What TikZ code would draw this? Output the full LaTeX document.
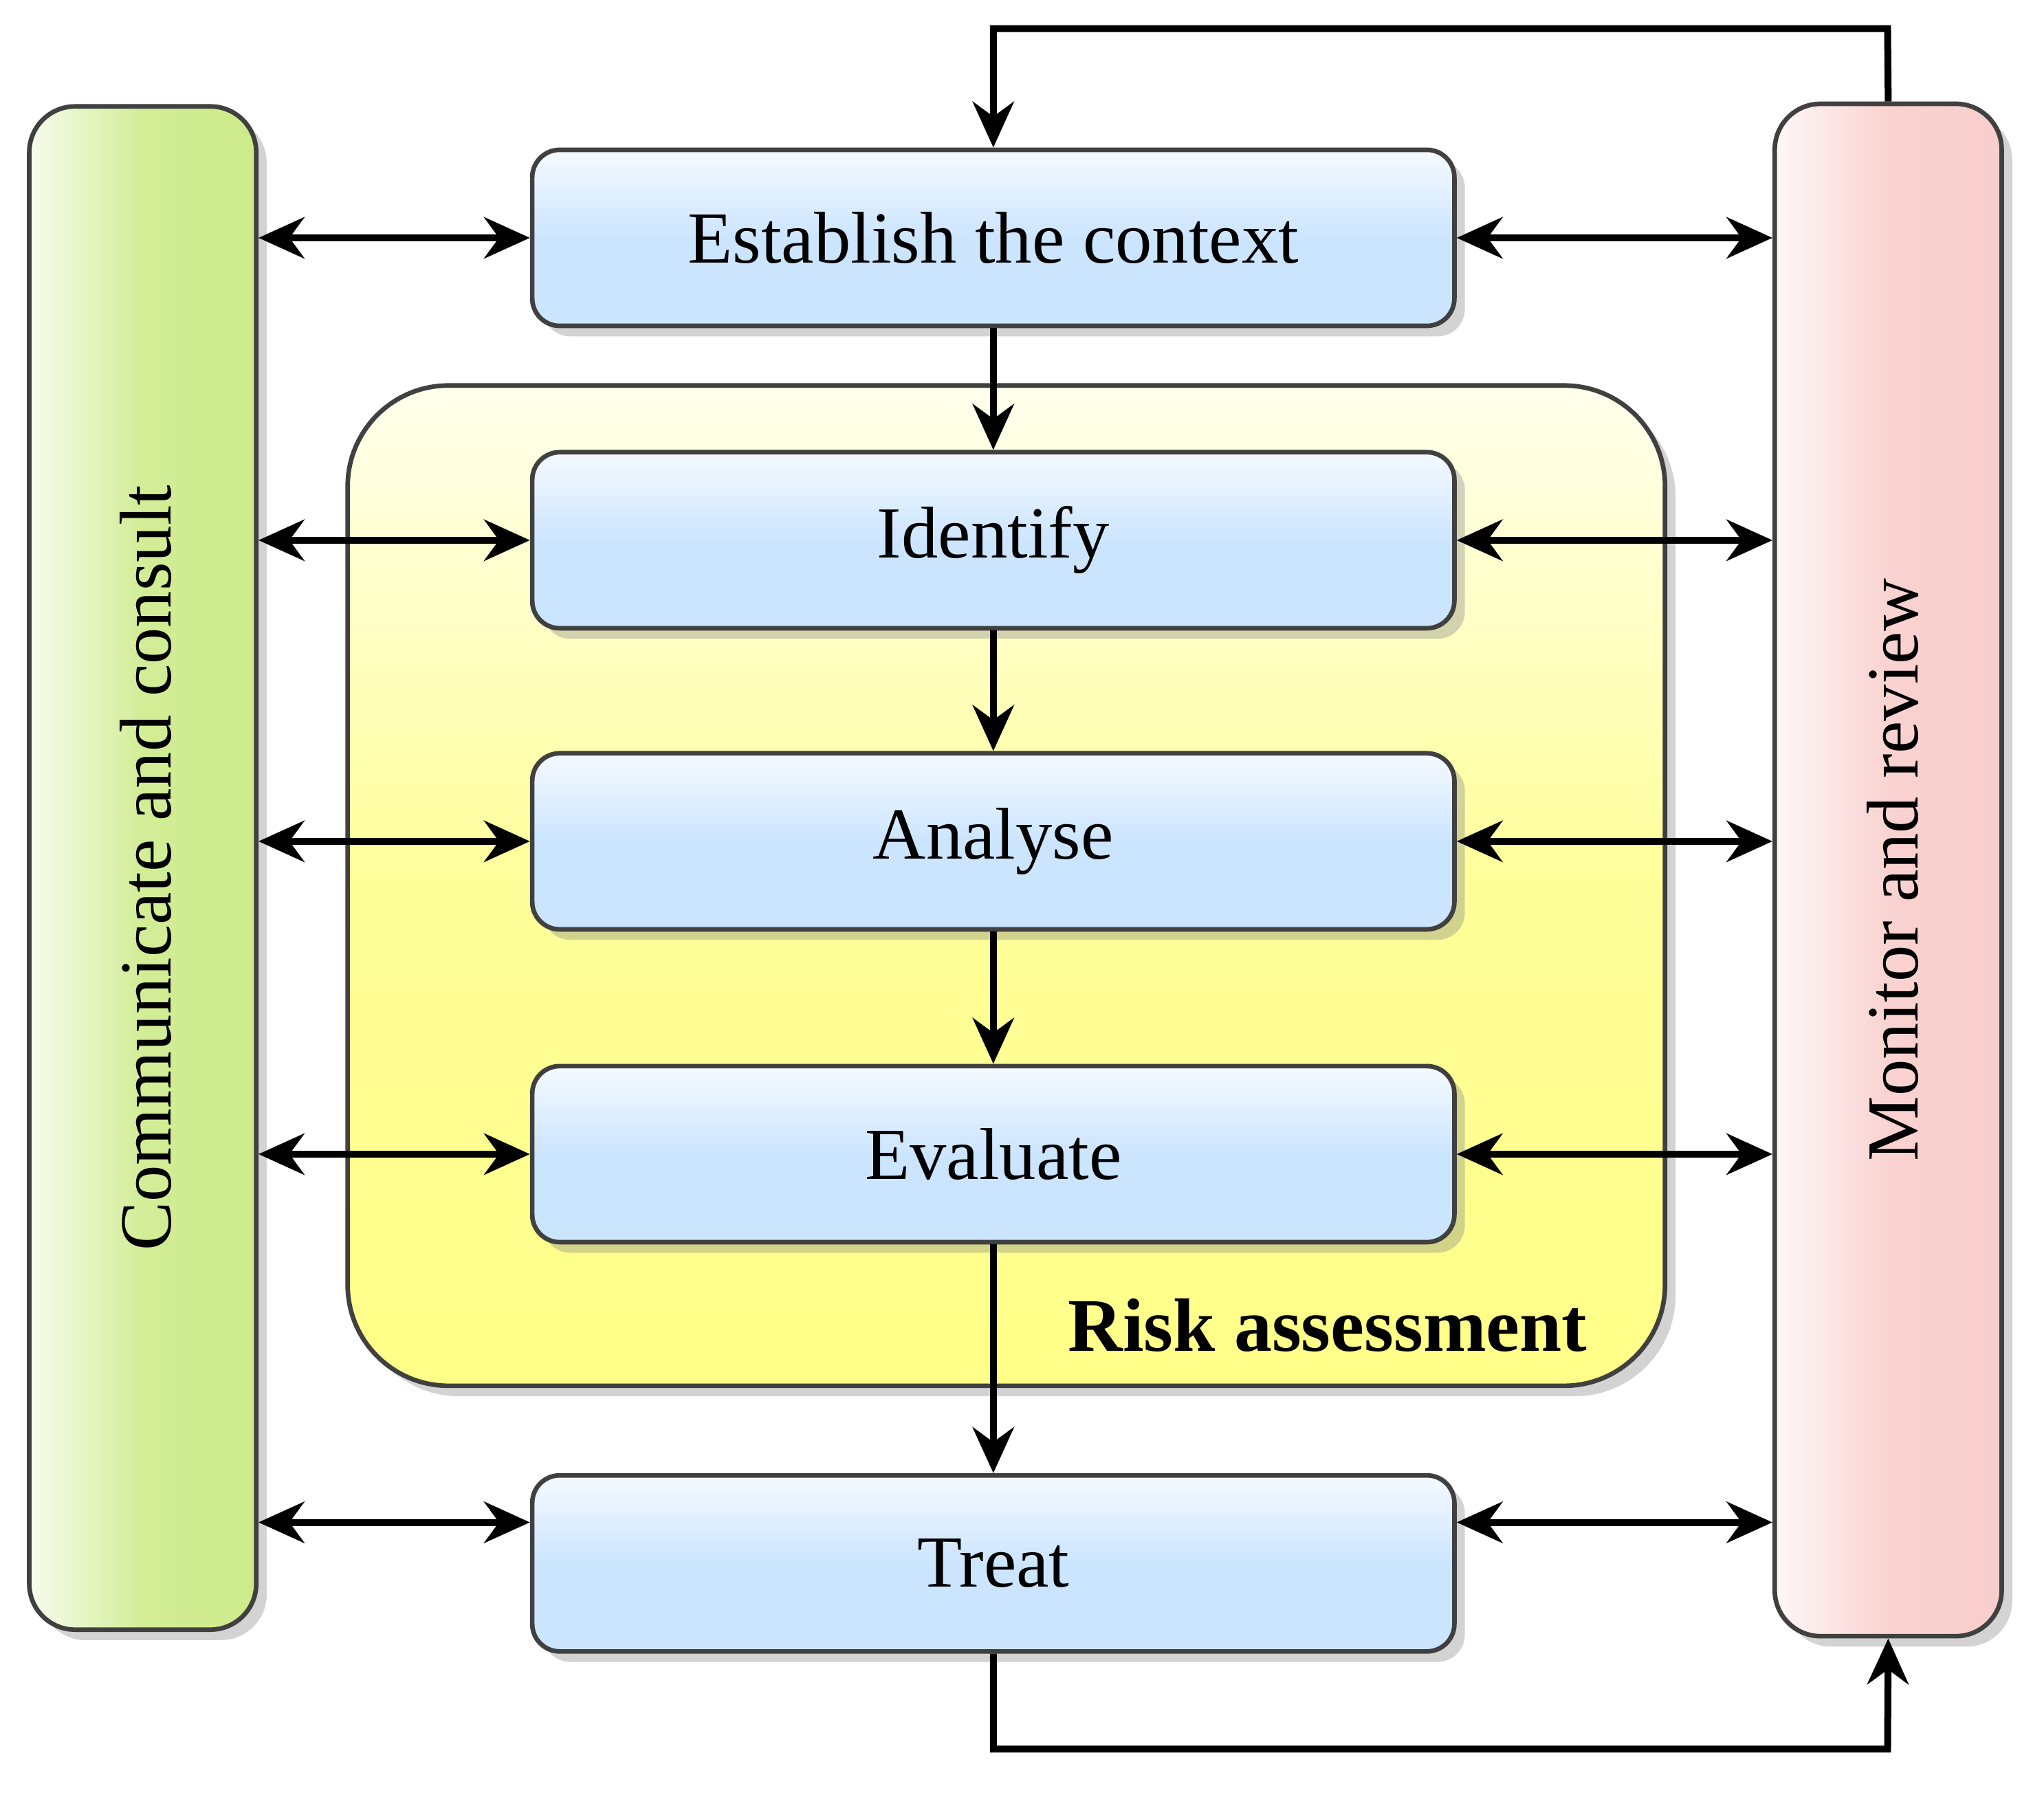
\documentclass[tikz,border=0pt]{standalone}
\usepackage{fontspec}
\setmainfont{Liberation Serif}
\usetikzlibrary{arrows.meta,shadows}
\definecolor{bluebox}{HTML}{CCE5FF}
\definecolor{greenbar}{HTML}{CDEB8B}
\definecolor{pinkbar}{HTML}{F8CECC}
\definecolor{yel}{HTML}{FFFF88}
\begin{document}
\begin{tikzpicture}[x=0.01cm,y=-0.01cm,
  stepbox/.style={draw=black!75,line width=1pt,rounded corners=6pt,minimum width=7.07cm,minimum height=1.35cm,
    top color=white!80!bluebox,bottom color=bluebox,middle color=bluebox,drop shadow={opacity=0.35},
    font=\fontsize{16}{19}\selectfont},
  bar/.style={draw=black!75,line width=1pt,rounded corners=10pt,minimum width=1.74cm,drop shadow={opacity=0.35}},
  arr/.style={line width=1.5pt,-{Stealth[length=10pt,width=9pt]}},
  darr/.style={line width=1.5pt,{Stealth[length=10pt,width=9pt]}-{Stealth[length=10pt,width=9pt]}}]
\useasboundingbox (0,0) rectangle (1568,1380);
% yellow region
\node[draw=black!75,line width=1pt,rounded corners=22pt,minimum width=10.1cm,minimum height=7.67cm,
  top color=yel!15,bottom color=yel,middle color=yel!85,drop shadow={opacity=0.35}] (ra) at (772,679.5) {};
\node[font=\bfseries\fontsize{16.5}{20}\selectfont,anchor=east] (ral) at (1230,1017) {Risk assessment};
% bars
\node[bar,minimum height=11.68cm,left color=greenbar!15,right color=greenbar,middle color=greenbar!90] (cc) at (109.5,666) {};
\node[rotate=90,font=\fontsize{16}{19}\selectfont] (cct) at (112,666) {Communicate and consult};
\node[bar,minimum height=11.75cm,left color=pinkbar!15,right color=pinkbar,middle color=pinkbar!90] (mr) at (1448.5,667.5) {};
\node[rotate=90,font=\fontsize{16}{19}\selectfont] (mrt) at (1452,667.5) {Monitor and review};
% steps
\node[stepbox] (e) at (762,182.5) {Establish the context};
\node[stepbox] (i) at (762,414.5) {Identify};
\node[stepbox] (a) at (762,645.5) {Analyse};
\node[stepbox] (v) at (762,885.5) {Evaluate};
\node[stepbox] (t) at (762,1199.5) {Treat};
% vertical arrows
\draw[arr] (e) -- (i);
\draw[arr] (i) -- (a);
\draw[arr] (a) -- (v);
\draw[arr] (v) -- (t);
% horizontal arrows
\foreach \n in {e,i,a,v}{
  \draw[darr] (cc.east |- \n.west) -- (\n.west);
  \draw[darr] (\n.east) -- (mr.west |- \n.east);
}
\draw[darr] (cc.east |- 0,1168) -- (t.west |- 0,1168);
\draw[darr] (t.east |- 0,1168) -- (mr.west |- 0,1168);
% loops
\coordinate (tl) at (762,22);
\coordinate (tr) at (1448,22);
\draw[arr] (mr.north) -- (tr) -- (tl) -- (e.north);
\coordinate (bl) at (762,1342);
\coordinate (br) at (1448,1342);
\draw[arr] (t.south) -- (bl) -- (br) -- (mr.south);
\end{tikzpicture}
\end{document}
